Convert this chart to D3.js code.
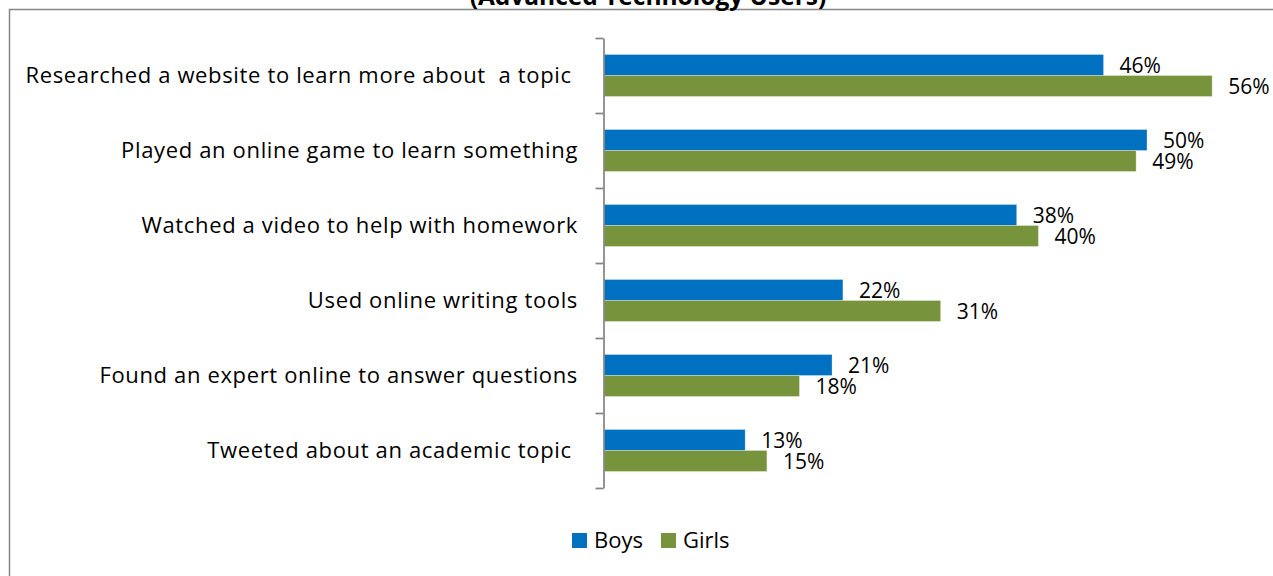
<!DOCTYPE html>
<html>
<head>
<meta charset="utf-8">
<script src="https://cdn.jsdelivr.net/npm/d3@7"></script>
<style>
  html, body { margin: 0; padding: 0; background: #fff; }
  svg { display: block; }
  text { font-family: "Open Sans", sans-serif; fill: #000; }
</style>
</head>
<body>
<svg id="chart" width="1273" height="576"></svg>
<script>
const titleText = "(Advanced Technology Users)";
const categories = [
  "Researched a website to learn more about  a topic ",
  "Played an online game to learn something",
  "Watched a video to help with homework",
  "Used online writing tools",
  "Found an expert online to answer questions",
  "Tweeted about an academic topic "
];
const seriesNames = ["Boys", "Girls"];
const boys = [46, 50, 38, 22, 21, 13];
const girls = [56, 49, 40, 31, 18, 15];
const colors = ["#0070C0", "#77933C"];
const xMax = 60;

const svg = d3.select("#chart");

// outer frame
svg.append("rect")
  .attr("x", 9.5).attr("y", 9.5)
  .attr("width", 1300).attr("height", 600)
  .attr("fill", "none").attr("stroke", "#868686").attr("stroke-width", 1.5);

// title (partially cut off at the top)
svg.append("text")
  .attr("x", 648).attr("y", 5)
  .attr("text-anchor", "middle")
  .style("font-size", "24.5px").style("font-weight", "bold")
  .text(titleText);

const plotLeft = 604, plotTop = 38, plotBottom = 488;
const x = d3.scaleLinear().domain([0, xMax]).range([plotLeft, plotLeft + xMax * 10.86]);
const y = d3.scaleBand().domain(categories).range([plotTop, plotBottom]).padding(0);
const sub = d3.scaleBand().domain(seriesNames).range([0, y.bandwidth()])
  .paddingInner(0).paddingOuter(0.786);

const data = categories.map((c, i) => ({cat: c, vals: [boys[i], girls[i]]}));

// bars
const groups = svg.selectAll("g.cat").data(data).enter().append("g")
  .attr("class", "cat")
  .attr("transform", d => `translate(0,${y(d.cat)})`);

groups.selectAll("rect").data(d => d.vals.map((v, j) => ({v, s: seriesNames[j], j})))
  .enter().append("rect")
  .attr("x", x(0))
  .attr("y", d => sub(d.s))
  .attr("width", d => x(d.v) - x(0))
  .attr("height", sub.bandwidth())
  .attr("fill", d => colors[d.j])
  .attr("stroke", "rgba(255,255,255,0.3)")
  .attr("stroke-width", 1);

groups.selectAll("text.val").data(d => d.vals.map((v, j) => ({v, s: seriesNames[j], j})))
  .enter().append("text")
  .attr("class", "val")
  .attr("x", d => x(d.v) + 16)
  .attr("y", d => sub(d.s) + sub.bandwidth() / 2)
  .attr("dy", "0.36em")
  .style("font-size", "21px")
  .text(d => d.v + "%");

// category axis with ticks at band boundaries
const yIdx = d3.scaleLinear().domain([0, categories.length]).range([plotTop, plotBottom]);
const axis = svg.append("g")
  .attr("transform", `translate(${plotLeft - 0.5},0)`)
  .call(d3.axisLeft(yIdx).tickValues(d3.range(categories.length + 1))
    .tickSize(8).tickSizeOuter(0).tickFormat(""));
axis.selectAll("path, line").attr("stroke", "#868686").attr("stroke-width", 1.75);

// category labels
svg.selectAll("text.cat").data(categories).enter().append("text")
  .attr("class", "cat")
  .attr("x", 578)
  .attr("y", d => y(d) + y.bandwidth() / 2)
  .attr("dy", "0.35em")
  .attr("text-anchor", "end")
  .style("font-size", "22px")
  .style("letter-spacing", "0.65px")
  .style("white-space", "pre")
  .text(d => d);

// legend
const legendX = [572, 661];
const legend = svg.selectAll("g.leg").data(seriesNames).enter().append("g")
  .attr("class", "leg")
  .attr("transform", (d, i) => `translate(${legendX[i]},533)`);
legend.append("rect").attr("width", 15).attr("height", 15)
  .attr("fill", (d, i) => colors[i]);
legend.append("text").attr("x", 22).attr("y", 15)
  .style("font-size", "22px").text(d => d);
</script>
</body>
</html>
